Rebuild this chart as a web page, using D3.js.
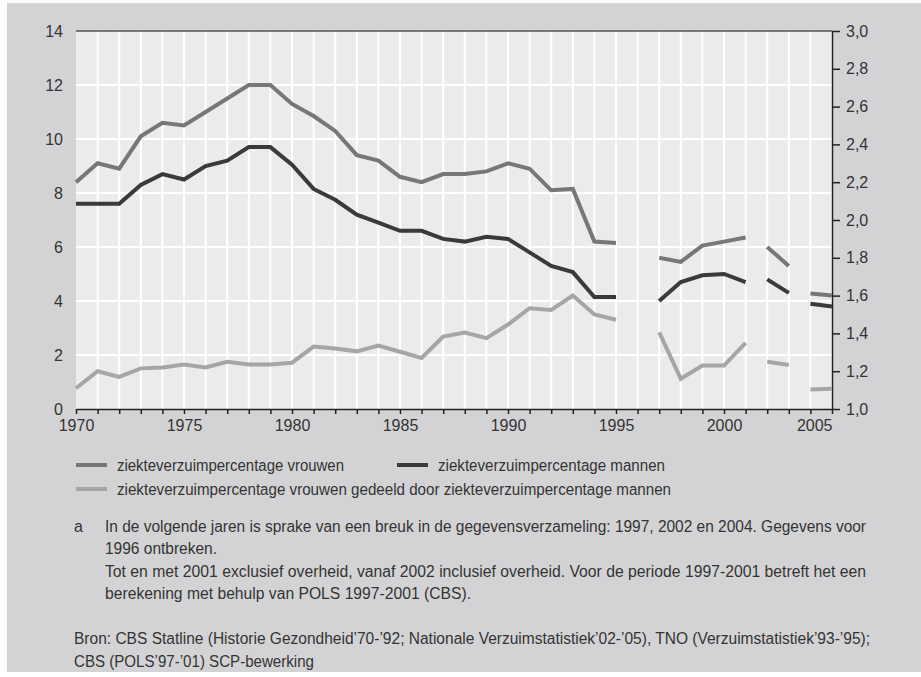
<!DOCTYPE html>
<html>
<head>
<meta charset="utf-8">
<script src="https://cdn.jsdelivr.net/npm/d3@7"></script>
<style>
  body { margin: 0; background: #fff; }
  .tick text { font-family: "Liberation Sans", Arial, sans-serif; font-size: 16px; fill: #333; }
  .note { font-family: "Liberation Sans", Arial, sans-serif; font-size: 16px; fill: #333; }
</style>
</head>
<body>
<script>
// years on the axis (1996 missing in the source)
const years = [1970,1971,1972,1973,1974,1975,1976,1977,1978,1979,1980,1981,1982,1983,1984,1985,1986,1987,
  1988,1989,1990,1991,1992,1993,1994,1995,1996,1997,1998,1999,2000,2001,2002,2003,2004,2005];

// years where the data collection breaks (see note a)
const breakYears = [1997, 2002, 2004];

const vrouwen = [8.4,9.1,8.9,10.1,10.6,10.5,11.0,11.5,12.0,12.0,11.3,10.85,10.3,9.4,9.2,8.6,8.4,8.7,
  8.7,8.8,9.1,8.9,8.1,8.15,6.2,6.15,null,5.6,5.45,6.05,6.2,6.35,6.0,5.3,4.28,4.2];
const mannen = [7.6,7.6,7.6,8.3,8.7,8.5,9.0,9.2,9.7,9.7,9.05,8.15,7.75,7.2,6.9,6.6,6.6,6.3,
  6.2,6.38,6.3,5.8,5.3,5.07,4.15,4.15,null,4.0,4.7,4.95,5.0,4.7,4.8,4.3,3.9,3.8];
const verhouding = [1.11,1.2,1.17,1.215,1.22,1.235,1.22,1.25,1.235,1.235,1.245,1.33,1.32,1.305,1.335,1.303,1.27,1.383,
  1.405,1.375,1.447,1.533,1.524,1.6,1.5,1.472,null,1.405,1.16,1.23,1.23,1.35,1.25,1.233,1.103,1.107];

const leftTicks = [0,2,4,6,8,10,12,14];
const rightTicks = [1.0,1.2,1.4,1.6,1.8,2.0,2.2,2.4,2.6,2.8,3.0];

const legendLabels = ["ziekteverzuimpercentage vrouwen", "ziekteverzuimpercentage mannen",
  "ziekteverzuimpercentage vrouwen gedeeld door ziekteverzuimpercentage mannen"];
const noteLines = [
  "In de volgende jaren is sprake van een breuk in de gegevensverzameling: 1997, 2002 en 2004. Gegevens voor",
  "1996 ontbreken.",
  "Tot en met 2001 exclusief overheid, vanaf 2002 inclusief overheid. Voor de periode 1997-2001 betreft het een",
  "berekening met behulp van POLS 1997-2001 (CBS)."];
const sourceLines = [
  "Bron: CBS Statline (Historie Gezondheid\u201970-\u201992; Nationale Verzuimstatistiek\u201902-\u201905), TNO (Verzuimstatistiek\u201993-\u201995);",
  "CBS (POLS\u201997-\u201901) SCP-bewerking"];

const W = 921, H = 677;
const plotL = 76, plotR = 832, plotT = 31, plotB = 409;

const svg = d3.select("body").append("svg")
  .attr("width", W).attr("height", H);

svg.append("rect").attr("x", 7).attr("y", 3).attr("width", W - 7).attr("height", 669)
  .attr("fill", "#d3d3d5");
svg.append("rect").attr("x", plotL).attr("y", plotT).attr("width", plotR - plotL).attr("height", plotB - plotT)
  .attr("fill", "#ebebed");

const x = d3.scaleLinear().domain([1970, 2005]).range([plotL, plotR]);
const yL = d3.scaleLinear().domain([0, 14]).range([plotB, plotT]);
const yR = d3.scaleLinear().domain([1, 3]).range([plotB, plotT]);

// grid
svg.append("g").selectAll("line").data(years.slice(1))
  .join("line")
  .attr("x1", d => x(d)).attr("x2", d => x(d))
  .attr("y1", plotT).attr("y2", plotB)
  .attr("stroke", "#fff").attr("stroke-width", 2);
svg.append("g").selectAll("line").data(leftTicks.slice(1, -1))
  .join("line")
  .attr("x1", plotL).attr("x2", plotR)
  .attr("y1", d => yL(d)).attr("y2", d => yL(d))
  .attr("stroke", "#fff").attr("stroke-width", 2);
svg.append("line").attr("x1", plotL).attr("x2", plotR)
  .attr("y1", yL(14)).attr("y2", yL(14))
  .attr("stroke", "#555").attr("stroke-width", 1.5);

// axes
const nl = d3.formatLocale({decimal: ",", thousands: ".", grouping: [3], currency: ["€", ""]});

const gx = svg.append("g")
  .attr("transform", `translate(0,${plotB})`)
  .call(d3.axisBottom(x).tickValues(years).tickSize(5).tickSizeOuter(0).tickPadding(6)
    .tickFormat(d => d % 5 === 0 ? String(d) : ""));
gx.selectAll("path, line").attr("stroke", "#222").attr("stroke-width", 1.5);
gx.selectAll(".tick text").filter(d => d === 2005).attr("text-anchor", "end").attr("dx", 0);

const gl = svg.append("g")
  .attr("transform", `translate(${plotL},0)`)
  .call(d3.axisLeft(yL).tickValues(leftTicks).tickSize(0).tickPadding(13).tickFormat(d3.format("d")));
gl.select(".domain").remove();

const gr = svg.append("g")
  .attr("transform", `translate(${plotR},0)`)
  .call(d3.axisRight(yR).tickValues(rightTicks).tickSize(8).tickSizeOuter(0).tickPadding(6)
    .tickFormat(nl.format(".1f")));
gr.selectAll("path, line").attr("stroke", "#222").attr("stroke-width", 1.5);

// lines, split at missing years and at the breaks
const series = [
  {values: vrouwen, y: yL, color: "#777777"},
  {values: mannen, y: yL, color: "#3a3a3a"},
  {values: verhouding, y: yR, color: "#a6a6a6"}
];

series.forEach(s => {
  const pts = years.map((yr, i) => ({yr, v: s.values[i], seg: breakYears.filter(b => b <= yr).length}));
  const segs = d3.groups(pts.filter(p => p.v != null), p => p.seg);
  const line = d3.line().x(p => x(p.yr)).y(p => s.y(p.v));
  svg.append("g").selectAll("path").data(segs)
    .join("path")
    .attr("d", d => line(d[1]))
    .attr("fill", "none")
    .attr("stroke", s.color)
    .attr("stroke-width", 4)
    .attr("stroke-linejoin", "miter");
});

// condensed text: fit each line to the width it has in the original
function squeeze(sel, widths) {
  sel.attr("textLength", (d, i) => widths[i]).attr("lengthAdjust", "spacingAndGlyphs");
}

// legend
const legendItems = [
  {label: legendLabels[0], color: "#777777", lx: 76, ly: 465, w: 227},
  {label: legendLabels[1], color: "#3a3a3a", lx: 397, ly: 465, w: 227},
  {label: legendLabels[2], color: "#a6a6a6", lx: 76, ly: 489, w: 554}
];
const lg = svg.append("g").selectAll("g").data(legendItems).join("g")
  .attr("transform", d => `translate(${d.lx},${d.ly})`);
lg.append("line").attr("x1", 0).attr("x2", 31).attr("stroke", d => d.color).attr("stroke-width", 4);
lg.append("text").attr("class", "note").attr("x", 41).attr("dy", "0.35em").text(d => d.label)
  .call(squeeze, legendItems.map(d => d.w));

// notes
svg.append("text").attr("class", "note").attr("x", 74).attr("y", 526).attr("dy", "0.35em").text("a");
svg.append("g").selectAll("text").data(noteLines).join("text")
  .attr("class", "note")
  .attr("x", 105).attr("y", (d, i) => 526 + i * 22.5).attr("dy", "0.35em")
  .text(d => d)
  .call(squeeze, [761, 112, 761, 366]);
svg.append("g").selectAll("text").data(sourceLines).join("text")
  .attr("class", "note")
  .attr("x", 74).attr("y", (d, i) => 638 + i * 23).attr("dy", "0.35em")
  .text(d => d)
  .call(squeeze, [796, 240]);
</script>
</body>
</html>
